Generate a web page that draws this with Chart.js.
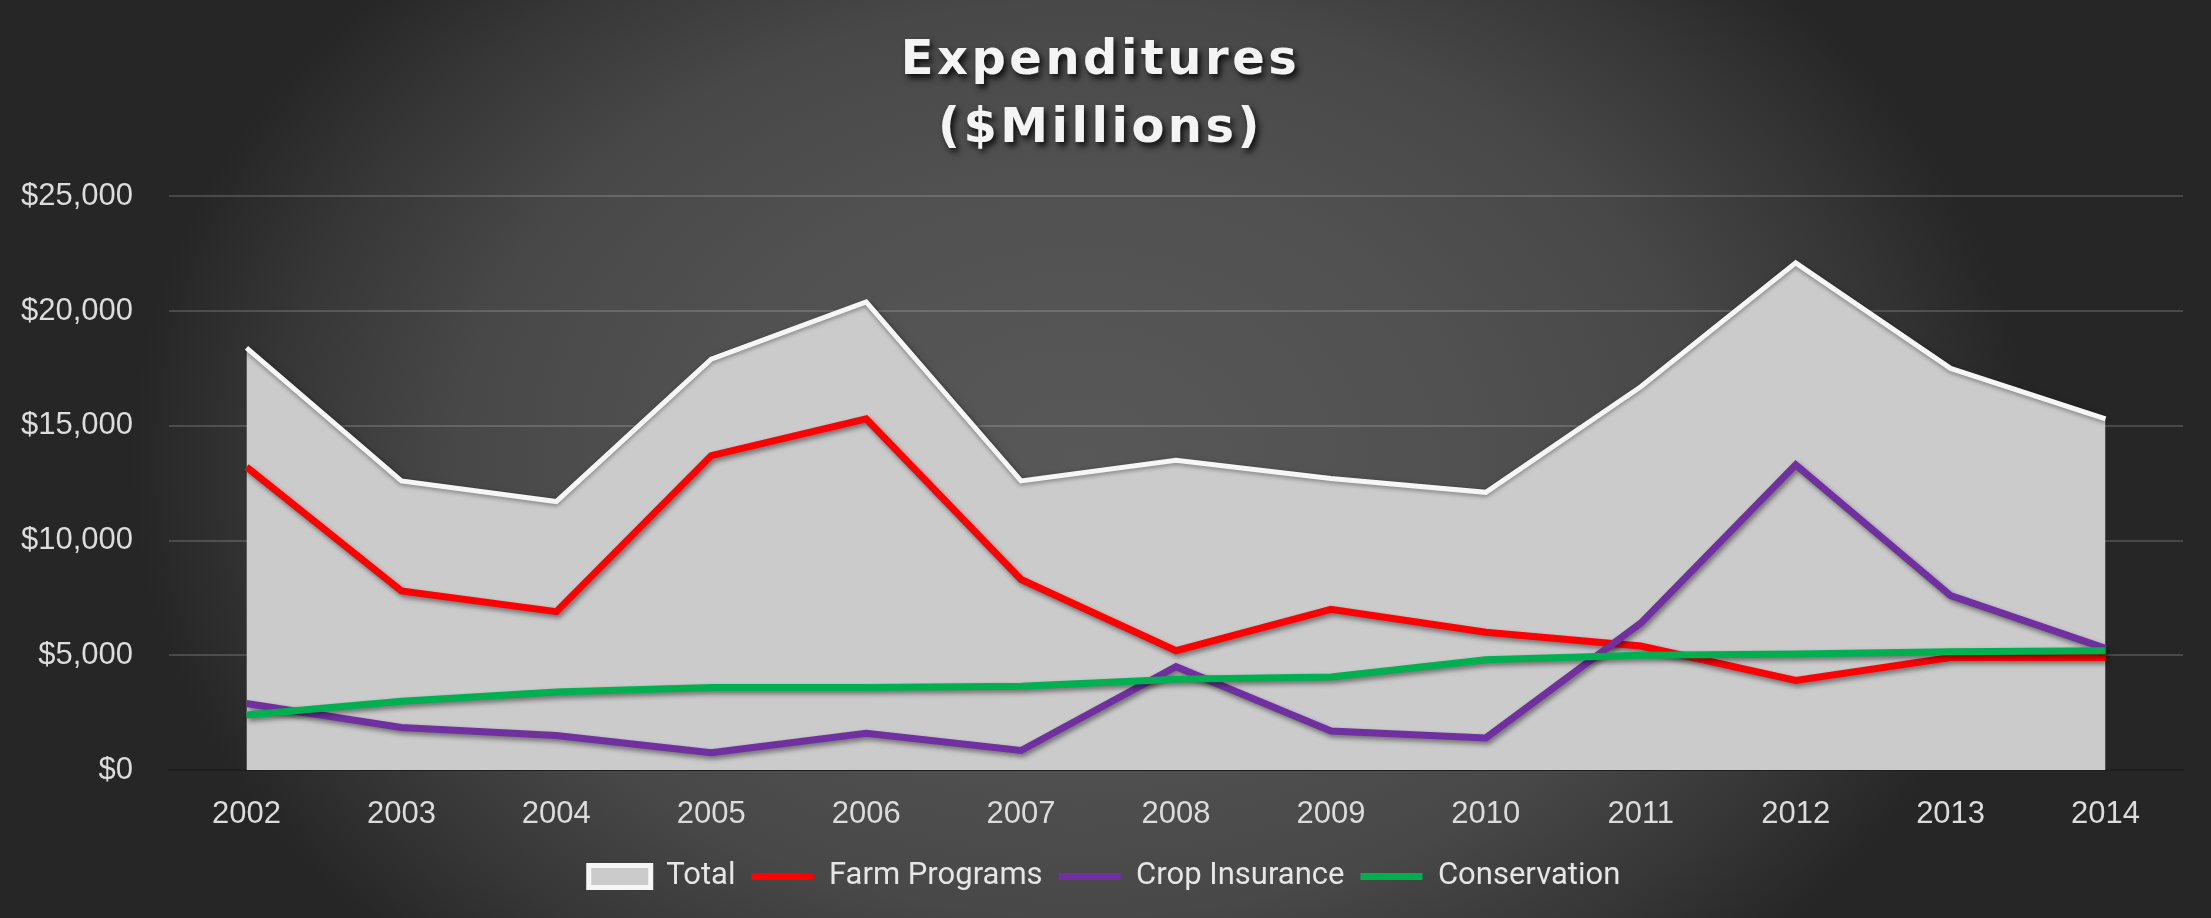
<!DOCTYPE html>
<html>
<head>
<meta charset="utf-8">
<script src="https://cdn.jsdelivr.net/npm/chart.js@4.4.1/dist/chart.umd.min.js"></script>
<style>
  html, body { margin: 0; padding: 0; }
  body {
    width: 2211px; height: 918px; overflow: hidden;
    background: radial-gradient(ellipse 950px 700px at 1080px 460px, #585858 0%, #515151 40%, #484848 65%, #363636 85%, #262626 100%);
  }
  #wrap { position: relative; width: 2211px; height: 918px; }
</style>
</head>
<body>
<div id="wrap"><canvas id="expChart" width="2211" height="918"></canvas></div>
<script>
// du lieu doc tu hinh
const years = ['2002', '2003', '2004', '2005', '2006', '2007', '2008', '2009', '2010', '2011', '2012', '2013', '2014'];
const total = [18400, 12600, 11700, 17900, 20400, 12600, 13500, 12700, 12100, 16700, 22100, 17500, 15300];
const farmPrograms = [13200, 7800, 6900, 13700, 15300, 8300, 5200, 7000, 6000, 5400, 3900, 4900, 4900];
const cropInsurance = [2900, 1850, 1500, 750, 1600, 850, 4500, 1700, 1400, 6400, 13300, 7600, 5300];
const conservation = [2400, 3000, 3400, 3600, 3600, 3650, 3950, 4050, 4800, 5000, 5050, 5150, 5200];
const yTicks = [0, 5000, 10000, 15000, 20000, 25000];

// bong do cho cac duong va vung
const shadowPlugin = {
  id: 'shadows',
  beforeDatasetsDraw(chart) {
    const ctx = chart.ctx;
    ctx.save();
    ctx.shadowColor = 'rgba(0,0,0,0.55)';
    ctx.shadowBlur = 8;
    ctx.shadowOffsetX = 3;
    ctx.shadowOffsetY = 3;
  },
  beforeDatasetDraw(chart, args) {
    const ctx = chart.ctx;
    if (args.index === 0) {
      ctx.shadowColor = 'rgba(0,0,0,0.35)';
      ctx.shadowBlur = 4;
      ctx.shadowOffsetX = 0;
      ctx.shadowOffsetY = 2;
    } else {
      ctx.shadowColor = 'rgba(0,0,0,0.45)';
      ctx.shadowBlur = 5;
      ctx.shadowOffsetX = 2;
      ctx.shadowOffsetY = 3;
    }
  },
  afterDatasetsDraw(chart) {
    chart.ctx.restore();
  },
  beforeDraw(chart) {
    // bong cho tieu de
    const tb = chart.titleBlock;
    if (tb && !tb._shadowed) {
      const orig = tb.draw.bind(tb);
      tb.draw = function (area) {
        const ctx = chart.ctx;
        ctx.save();
        ctx.letterSpacing = '3.5px';
        ctx.shadowColor = 'rgba(0,0,0,0.85)';
        ctx.shadowBlur = 6;
        ctx.shadowOffsetX = 3;
        ctx.shadowOffsetY = 4;
        orig(area);
        ctx.restore();
      };
      tb._shadowed = true;
    }
    // legend lech sang phai mot chut
    const lg = chart.legend;
    if (lg && !lg._moved) {
      const origL = lg.draw.bind(lg);
      lg.draw = function (area) {
        const ctx = chart.ctx;
        ctx.save();
        ctx.translate(4, 0);
        origL(area);
        ctx.restore();
      };
      lg._moved = true;
    }
  }
};

const ctx = document.getElementById('expChart').getContext('2d');
new Chart(ctx, {
  type: 'line',
  data: {
    labels: years,
    datasets: [
      {
        label: 'Total',
        data: total,
        order: 4,
        fill: 'origin',
        backgroundColor: '#cbcbcb',
        borderColor: '#f6f6f6',
        borderWidth: 5,
        pointRadius: 0,
        pointStyle: 'rect',
        tension: 0
      },
      {
        label: 'Farm Programs',
        data: farmPrograms,
        order: 3,
        borderColor: '#ff0000',
        backgroundColor: '#ff0000',
        borderWidth: 7,
        pointRadius: 0,
        pointStyle: 'line',
        fill: false
      },
      {
        label: 'Crop Insurance',
        data: cropInsurance,
        order: 2,
        borderColor: '#7030a0',
        backgroundColor: '#7030a0',
        borderWidth: 7,
        pointRadius: 0,
        pointStyle: 'line',
        fill: false
      },
      {
        label: 'Conservation',
        data: conservation,
        order: 1,
        borderColor: '#00b050',
        backgroundColor: '#00b050',
        borderWidth: 7,
        pointRadius: 0,
        pointStyle: 'line',
        fill: false
      }
    ]
  },
  options: {
    responsive: false,
    animation: false,
    devicePixelRatio: 1,
    layout: { padding: { left: 18, right: 28, top: 0, bottom: 16 } },
    plugins: {
      title: {
        display: true,
        text: ['Expenditures', '($Millions)'],
        color: '#f4f4f4',
        font: { family: '"DejaVu Sans", sans-serif', size: 48, weight: 'bold', lineHeight: 1.42 },
        padding: { top: 27, bottom: 33 }
      },
      legend: {
        position: 'bottom',
        labels: {
          usePointStyle: true,
          pointStyleWidth: 62,
          boxHeight: 22,
          color: '#e6e6e6',
          padding: 16,
          font: { family: 'Roboto, "Liberation Sans", sans-serif', size: 31 },
          sort: (a, b) => a.datasetIndex - b.datasetIndex
        }
      },
      tooltip: { enabled: false }
    },
    scales: {
      x: {
        offset: true,
        afterFit: (axis) => { axis.height = 75; },
        grid: { display: false, drawTicks: false },
        border: { display: true, color: '#1e1e1e', width: 2 },
        ticks: { color: '#dcdcdc', padding: 26, font: { family: '"Liberation Sans", Arial, sans-serif', size: 31 } }
      },
      y: {
        min: 0,
        max: 25000,
        afterFit: (axis) => { axis.width = 151; },
        afterBuildTicks: (axis) => { axis.ticks = yTicks.map(v => ({ value: v })); },
        grid: { color: 'rgba(255,255,255,0.16)', lineWidth: 2, drawTicks: false },
        border: { display: false },
        ticks: {
          color: '#dcdcdc',
          padding: 36,
          font: { family: '"Liberation Sans", Arial, sans-serif', size: 31 },
          callback: (v) => '$' + v.toLocaleString('en-US')
        }
      }
    }
  },
  plugins: [shadowPlugin]
});
</script>
</body>
</html>
